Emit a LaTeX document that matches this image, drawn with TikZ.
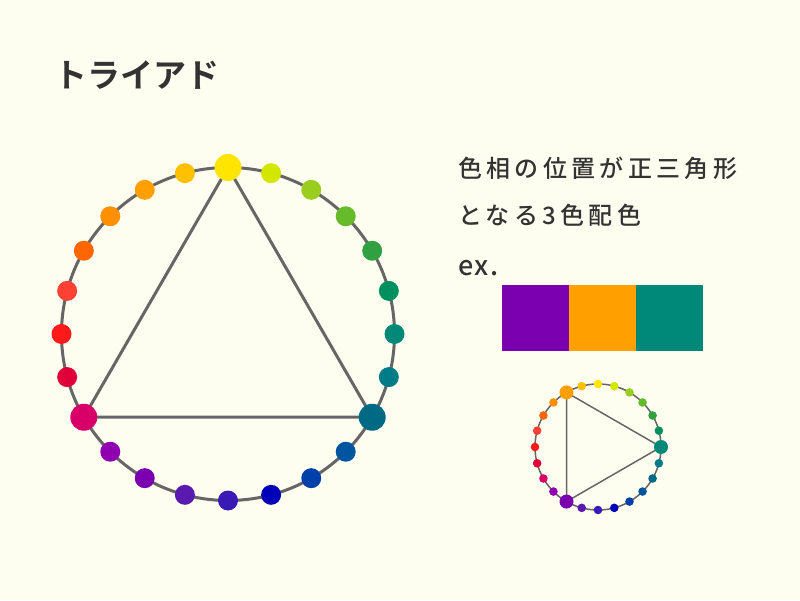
\documentclass[tikz,border=0pt]{standalone}
\usepackage{fontspec}
\setmainfont{Noto Sans CJK JP}
\newfontfamily\jpbold{Noto Sans CJK JP Bold}
\newfontfamily\jpmedium[LetterSpace=18]{Noto Sans CJK JP Medium}
\newfontfamily\jplatin[LetterSpace=6]{Noto Sans CJK JP Medium}
\usetikzlibrary{positioning,calc}

\definecolor{fondo}{HTML}{FEFEF0}
\definecolor{texto}{HTML}{333333}
\definecolor{linea}{HTML}{666666}
\definecolor{hue0}{HTML}{FFE500}
\definecolor{hue1}{HTML}{D2E600}
\definecolor{hue2}{HTML}{9ACD1E}
\definecolor{hue3}{HTML}{66BB2A}
\definecolor{hue4}{HTML}{30A040}
\definecolor{hue5}{HTML}{009060}
\definecolor{hue6}{HTML}{008878}
\definecolor{hue7}{HTML}{007B88}
\definecolor{hue8}{HTML}{006A84}
\definecolor{hue9}{HTML}{0055A0}
\definecolor{hue10}{HTML}{0040A8}
\definecolor{hue11}{HTML}{0000B8}
\definecolor{hue12}{HTML}{3A1AB5}
\definecolor{hue13}{HTML}{5A1AB0}
\definecolor{hue14}{HTML}{7A00B0}
\definecolor{hue15}{HTML}{9000B0}
\definecolor{hue16}{HTML}{D80068}
\definecolor{hue17}{HTML}{E0003A}
\definecolor{hue18}{HTML}{FF1A1A}
\definecolor{hue19}{HTML}{FF4035}
\definecolor{hue20}{HTML}{FF6600}
\definecolor{hue21}{HTML}{FF9000}
\definecolor{hue22}{HTML}{FFA000}
\definecolor{hue23}{HTML}{FFC000}

\tikzset{
  dot/.style={circle, inner sep=0pt, minimum size=20pt},
  bigdot/.style={circle, inner sep=0pt, minimum size=27pt},
  smalldot/.style={circle, inner sep=0pt, minimum size=8.6pt},
  smallbig/.style={circle, inner sep=0pt, minimum size=14pt},
  swatch/.style={inner sep=0pt, minimum width=66.7pt, minimum height=66pt},
  lbl/.style={inner sep=0pt, anchor=base west, text=texto},
  body/.style={lbl, font=\jpmedium\fontsize{24}{28}\selectfont}
}

\begin{document}
\begin{tikzpicture}[x=1pt, y=1pt]
    % Fondo
    \fill[fondo] (0,0) rectangle (800,600);

    % Titulo
    \node[lbl, font=\jpbold\fontsize{33}{38}\selectfont] (titulo) at (54,512) {トライアド};

    % Circulo grande
    \draw[linea, line width=3pt] (228,266) circle (166.5);
    \foreach \i in {0,...,23} {
        \coordinate (q\i) at ($(228,266)+(90-15*\i:166.5)$);
    }
    \draw[linea, line width=3pt] (q0) -- (q8) -- (q16) -- cycle;
    \foreach \i in {0,...,23} {
        \node[dot, fill=hue\i] (g\i) at (q\i) {};
    }
    \foreach \i in {0,8,16} {
        \node[bigdot, fill=hue\i] (G\i) at (q\i) {};
    }

    % Texto
    \node[body] (linea1) at (458,422) {色相の位置が正三角形};
    \node[body] (linea2) at (458,375) {となる3色配色};
    \node[lbl, font=\jplatin\fontsize{27}{30}\selectfont] (ej) at (458,324) {ex.};

    % Muestras
    \node[swatch, fill=hue14, anchor=north west] (m1) at (502,315) {};
    \node[swatch, fill=hue22, right=0pt of m1] (m2) {};
    \node[swatch, fill=hue6, right=0pt of m2] (m3) {};

    % Circulo chico
    \draw[linea, line width=1.5pt] (598,153) circle (63);
    \foreach \i in {0,...,23} {
        \coordinate (p\i) at ($(598,153)+(90-15*\i:63)$);
    }
    \draw[linea, line width=1.5pt] (p22) -- (p6) -- (p14) -- cycle;
    \foreach \i in {0,...,23} {
        \node[smalldot, fill=hue\i] (s\i) at (p\i) {};
    }
    \foreach \i in {22,6,14} {
        \node[smallbig, fill=hue\i] (S\i) at (p\i) {};
    }
\end{tikzpicture}
\end{document}
